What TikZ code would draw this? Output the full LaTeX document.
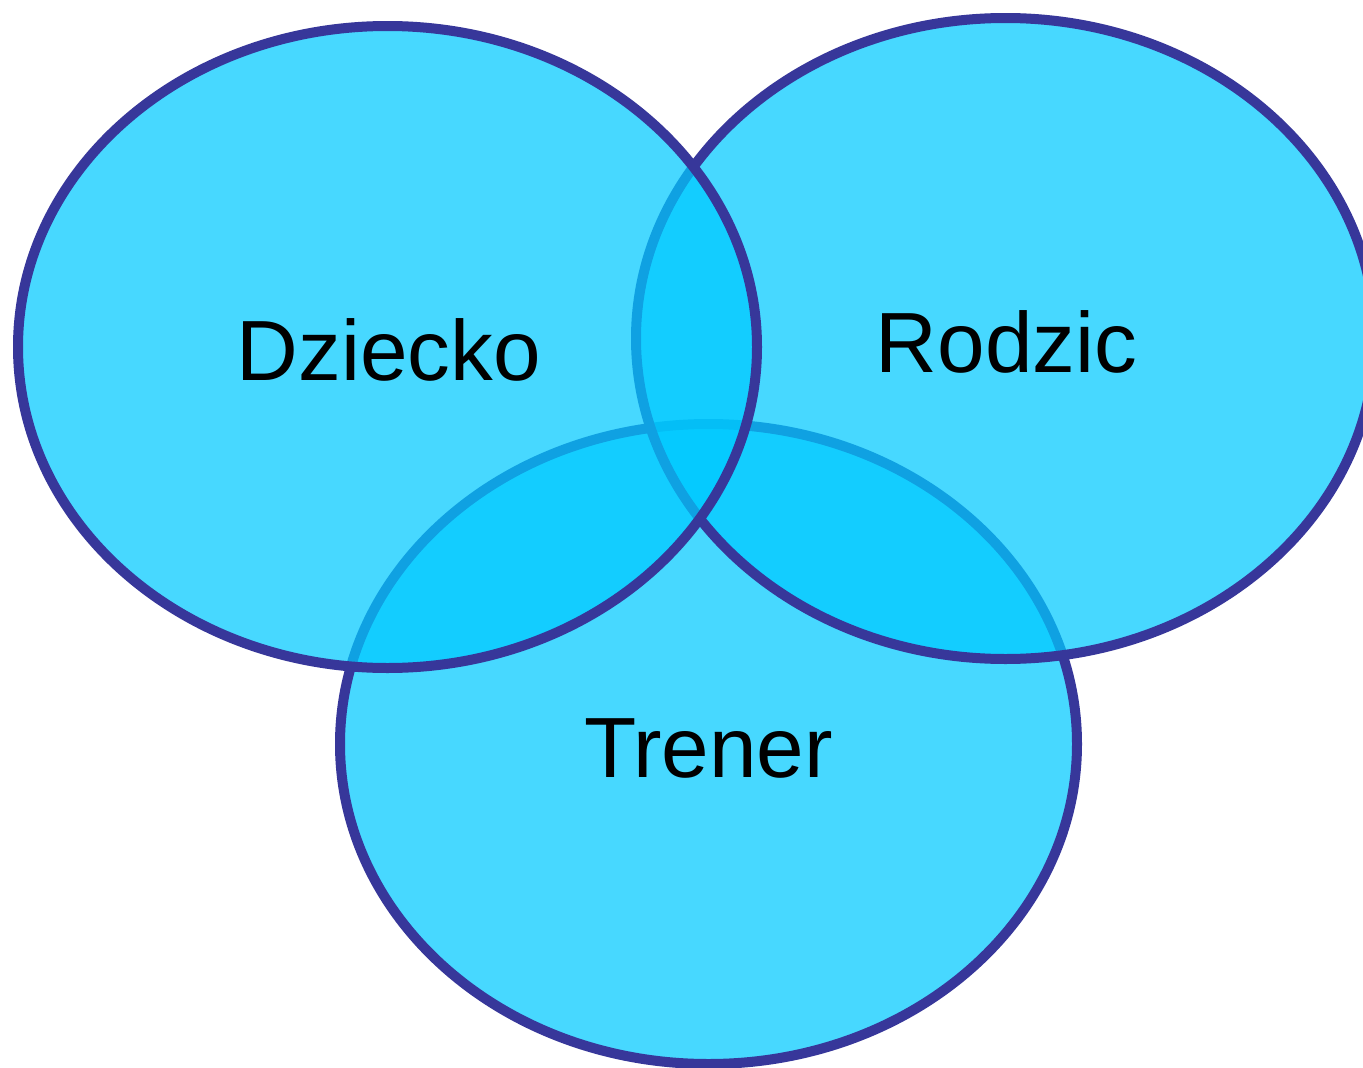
\documentclass[tikz,border=0pt]{standalone}
\usepackage{fontspec}
\setmainfont{Liberation Sans}
\definecolor{vennfill}{RGB}{0,202,255}
\definecolor{vennline}{RGB}{55,55,154}
\begin{document}
\begin{tikzpicture}[x=1pt,y=-1pt,
  venn/.style={draw=vennline,line width=10pt,fill=vennfill,fill opacity=0.72},
  lbl/.style={anchor=base,inner sep=0pt,text=black,font=\fontsize{85.5}{100}\selectfont}]
\useasboundingbox (0,0) rectangle (1363,1068);
\clip (0,0) rectangle (1363,1068);
\fill[white] (0,0) rectangle (1363,1068);
% drawing order: Trener, Rodzic, Dziecko
\draw[venn] (708.5,744) ellipse [x radius=368.5pt, y radius=320pt];
\draw[venn] (1005.5,338.5) ellipse [x radius=369.5pt, y radius=320.5pt];
\draw[venn] (387.5,347) ellipse [x radius=369.5pt, y radius=321pt];
\node[lbl] (dziecko) at (389,380) {Dziecko};
\node[lbl] (rodzic) at (1006.5,372) {Rodzic};
\node[lbl] (trener) at (708.5,777) {Trener};
\end{tikzpicture}
\end{document}
